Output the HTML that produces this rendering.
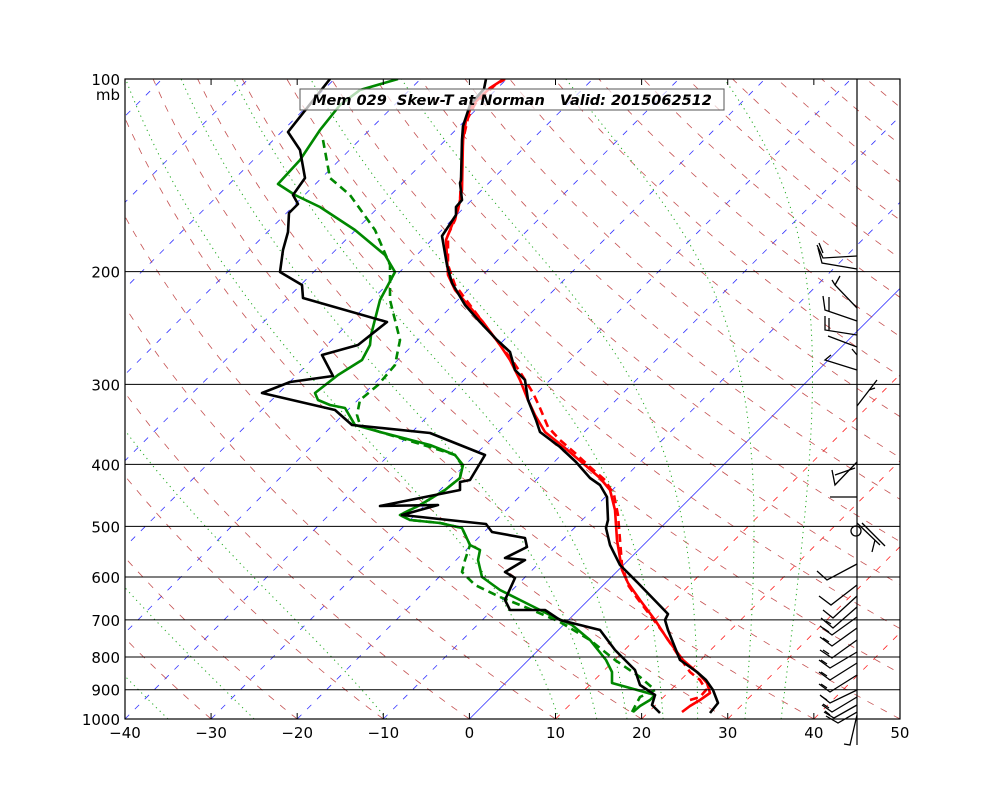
<!DOCTYPE html>
<html><head><meta charset="utf-8"><style>
html,body{margin:0;padding:0;background:#fff;}
svg text{font-family:"DejaVu Sans","Liberation Sans",sans-serif;}
</style></head><body>
<svg id="s" width="1000" height="800" xmlns="http://www.w3.org/2000/svg">
<defs><clipPath id="c"><rect x="125" y="79" width="775" height="640"/></clipPath></defs>
<rect x="0" y="0" width="1000" height="800" fill="#fff"/>
<g id="bg" clip-path="url(#c)"></g>
<g id="prof" clip-path="url(#c)" fill="none" stroke-linejoin="round"></g>
<g id="barbs" stroke="#000" stroke-width="1.3" fill="none"></g>
<g id="ax"></g>
</svg>
<script>
var NS="http://www.w3.org/2000/svg";
function el(p,t,a,txt){var e=document.createElementNS(NS,t);for(var k in a)e.setAttribute(k,a[k]);if(txt!=null)e.textContent=txt;document.getElementById(p).appendChild(e);return e;}
function Y(p){return 79+640*Math.log10(p/100);}
function X(T,y){return 469.4+8.611*T+(719-y);}
function pl(pts){return pts.map(function(q){return q[0].toFixed(1)+","+q[1].toFixed(1)}).join(" ");}
for(var T=-160;T<=50;T+=10){
  var y1=719,y2=79;
  var col=T<=0?"#33f":"#f22";
  var a={x1:X(T,y1),y1:y1,x2:X(T,y2),y2:y2,stroke:col,"stroke-width":T==0?0.8:0.8};
  if(T!=0)a["stroke-dasharray"]="6,8";
  el("bg","line",a);
}
for(var th=193.15;th<=573.15;th+=10){
  var pts=[];
  for(var p=1000;p>=100;p-=10){var t=th*Math.pow(p/1000,0.286)-273.15;var y=Y(p);pts.push([X(t,y),y]);}
  el("bg","polyline",{points:pl(pts),fill:"none",stroke:"#b33","stroke-width":0.8,"stroke-dasharray":"7,8","stroke-opacity":0.85});
}
function es(t){return 6.112*Math.exp(17.67*t/(t+243.5));}
var starts=[-45,-35,-25,-9.6,10.4,14.8,18.3,22.5,26.5,32,36.2];
starts.forEach(function(t0){
  var t=t0,pts=[];var p=1000;
  while(p>=100){var y=Y(p);pts.push([X(t,y),y]);
    var TK=t+273.15,e=es(t),rs=0.622*e/(p-e);
    var num=287*TK+2.5e6*rs, den=1004+2.5e6*2.5e6*rs*0.622/(287*TK*TK);
    var dTdp=num/den/p; var dp=-5; t+=dTdp*dp; p+=dp;}
  el("bg","polyline",{points:pl(pts),fill:"none",stroke:"#2a2","stroke-width":1,"stroke-dasharray":"1.2,4"});
});
[200,300,400,500,600,700,800,900].forEach(function(p){var y=Y(p);el("ax","line",{x1:125,y1:y,x2:900,y2:y,stroke:"#000","stroke-width":1});});
el("ax","line",{x1:857,y1:79,x2:857,y2:745,stroke:"#000","stroke-width":1.2});
el("ax","rect",{x:125,y:79,width:775,height:640,fill:"none",stroke:"#000","stroke-width":1.2});
function prof(pts,col,dash){var a={points:pl(pts),stroke:col,"stroke-width":2.6,fill:"none"};if(dash)a["stroke-dasharray"]="8,5";el("prof","polyline",a);}
var redD=[[690,700],[700,697],[706,690],[700,680],[690,672],[678,655],[665,635],[650,615],[637,598],[628,585],[622,565],[620,540],[618,515],[614,495],[605,480],[590,467],[575,453],[560,440],[548,427],[540,408],[533,393],[522,375],[512,360],[500,345],[485,325],[470,305],[455,285],[448,265],[448,235],[455,220],[460,200],[463,140],[468,118],[475,104],[495,85],[505,79]];
prof(redD,"#f00",true);
var red=[[682,712],[690,706],[700,700],[710,693],[707,683],[698,673],[683,660],[668,640],[655,620],[640,600],[628,583],[622,570],[617,540],[615,510],[610,490],[600,478],[585,465],[565,448],[545,432],[535,415],[528,400],[520,380],[510,360],[500,345],[483,322],[468,305],[455,290],[448,275],[446,240],[452,225],[458,210],[462,190],[463,140],[466,120],[472,105],[490,88],[510,75]];
prof(red,"#f00");
var blk=[[710,713],[718,703],[713,690],[706,680],[697,672],[680,660],[668,630],[665,620],[668,614],[638,583],[620,565],[610,545],[606,528],[608,520],[607,497],[600,485],[590,478],[576,462],[560,447],[540,432],[536,420],[528,400],[525,380],[515,370],[510,352],[497,340],[480,322],[465,305],[452,283],[447,265],[442,236],[456,215],[456,207],[462,200],[460,183],[461,180],[462,140],[463,126],[470,105],[484,89],[486,79]];
prof(blk,"#000");
var grnD=[[323,140],[330,178],[350,195],[375,230],[390,265],[390,300],[400,340],[395,365],[378,385],[360,400],[357,415],[360,425],[380,432],[430,447],[455,455],[462,465],[460,478],[445,490],[420,505],[400,515],[410,520],[440,523],[462,528],[470,545],[465,560],[462,572],[475,585],[500,597],[525,607],[560,622],[590,640],[615,660],[640,677],[655,690],[640,697],[632,712]];
prof(grnD,"#080",true);
var grn=[[633,712],[640,706],[650,700],[655,695],[630,688],[612,683],[612,672],[606,660],[590,640],[572,625],[550,615],[520,600],[500,590],[482,577],[478,560],[480,550],[470,545],[462,528],[440,523],[410,520],[400,515],[420,505],[445,490],[460,478],[463,465],[455,455],[430,445],[380,432],[355,425],[345,408],[330,405],[318,400],[315,393],[338,375],[362,360],[370,345],[371,335],[380,300],[395,272],[385,255],[355,230],[320,207],[295,195],[278,184],[300,160],[320,130],[340,105],[360,90],[398,79]];
prof(grn,"#080");
var bd=[[660,713],[652,705],[655,695],[640,685],[635,670],[615,650],[600,630],[560,620],[545,610],[510,610],[505,600],[515,578],[505,572],[525,560],[505,558],[527,547],[525,538],[492,532],[486,524],[402,515],[438,505],[380,506],[460,490],[460,482],[470,480],[485,455],[430,433],[352,425],[335,410],[262,393],[290,382],[333,376],[322,355],[358,345],[387,322],[303,298],[302,285],[280,272],[283,250],[288,232],[289,213],[298,204],[293,195],[305,178],[300,150],[288,132],[330,79]];
prof(bd,"#000");
var B=[
 [[857,256],[823,258],[817,245]],[[823,253],[819,243]],
 [[857,269],[822,263],[818,248]],
 [[857,308],[835,285],[832,280]],[[835,285],[840,276]],
 [[857,321],[825,310],[823,296]],[[829,311],[829,297]],
 [[857,335],[825,330],[825,316]],[[829,330],[829,318]],
 [[857,347],[828,336]],
 [[857,370],[825,360],[831,355]],[[857,355],[852,349]],
 [[857,406],[877,380]],[[869,390],[875,388]],
 [[857,462],[835,485],[832,470]],[[835,475],[855,468]],
 [[857,497],[830,497]],
 [[857,523],[880,545]],[[862,523],[885,546]],[[875,540],[872,552]],
 [[857,564],[827,580],[817,571]],
 [[857,585],[831,605],[819,596]],
 [[857,596],[833,618],[823,610]],
 [[857,607],[833,628],[821,618]],[[831,624],[826,621]],
 [[857,617],[832,635],[820,626]],[[829,632],[823,628]],
 [[857,628],[832,646],[820,637]],[[829,642],[823,638]],
 [[857,640],[832,658],[820,650]],[[829,654],[823,650]],
 [[857,652],[830,668],[819,660]],[[827,664],[821,660]],
 [[857,663],[830,680],[819,672]],[[827,676],[821,672]],
 [[857,675],[830,692],[819,684]],[[827,688],[821,684]],
 [[857,690],[830,703],[820,695]],[[827,700],[821,696]],
 [[857,697],[832,712],[822,705]],[[829,708],[823,704]],
 [[857,705],[834,718],[824,712]],[[830,715],[825,711]],
 [[857,712],[838,723],[826,716]],
 [[857,715],[850,745],[844,744]]
];
B.forEach(function(b){el("barbs","polyline",{points:pl(b)});});
el("barbs","circle",{cx:856,cy:531,r:5});
var ylab=[100,200,300,400,500,600,700,800,900,1000];
ylab.forEach(function(p){el("ax","text",{x:120,y:Y(p)+6,"text-anchor":"end","font-size":15},p);});
el("ax","text",{x:120,y:100,"text-anchor":"end","font-size":15},"mb");
for(var t=-40;t<=50;t+=10){var x=469.4+8.611*t;
 el("ax","line",{x1:x,y1:719,x2:x,y2:713,stroke:"#000","stroke-width":1});
 el("ax","line",{x1:x,y1:79,x2:x,y2:85,stroke:"#000","stroke-width":1});
 el("ax","text",{x:x,y:738,"text-anchor":"middle","font-size":15},(t<0?"\u2212"+(-t):t));}
el("ax","rect",{x:300,y:89,width:424,height:21,fill:"#fff","fill-opacity":0.7,stroke:"#555","stroke-width":1});
var tt=el("ax","text",{x:512,y:105,"text-anchor":"middle","font-size":14.5,"font-weight":"bold","font-style":"italic",style:"white-space:pre"},"Mem 029\u00a0\u00a0Skew-T at Norman\u00a0\u00a0\u00a0Valid: 2015062512");
</script>
</body></html>
